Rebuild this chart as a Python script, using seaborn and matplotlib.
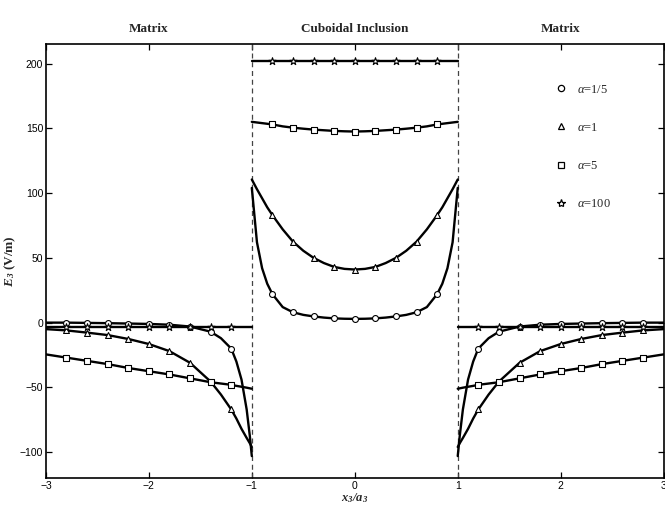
import numpy as np
import pandas as pd
import seaborn as sns
import matplotlib.pyplot as plt
from matplotlib.lines import Line2D

# E3 along x3/a3 for four conductivity ratios
labels = ['1/5', '1', '5', '100']
markers = ['o', '^', 's', '*']

# left matrix region
x_left = [-3.0, -2.8, -2.6, -2.4, -2.2, -2.0, -1.8, -1.6, -1.4, -1.3, -1.2,
          -1.15, -1.1, -1.05, -1.02, -1.0]
e_left_a02 = [0.0, 0.0, -0.2, -0.4, -0.7, -1.0, -1.6, -3.0, -7.0, -12.0, -20.0,
              -30.0, -44.0, -67.0, -87.0, -103.0]
e_left_a1 = [-5.0, -6.0, -7.7, -9.6, -12.6, -16.5, -22.0, -31.0, -45.5, -55.5, -67.0,
             -74.0, -82.0, -89.0, -93.0, -96.0]
e_left_a5 = [-24.5, -27.0, -29.5, -32.0, -35.0, -37.5, -40.0, -43.0, -46.0, -47.0, -48.0,
             -48.8, -49.5, -50.2, -50.7, -51.0]
e_left_a100 = [-3.0] * 16

# cuboidal inclusion
x_in = [-1.0, -0.95, -0.9, -0.85, -0.8, -0.7, -0.6, -0.5, -0.4, -0.3, -0.2, -0.1, 0.0,
        0.1, 0.2, 0.3, 0.4, 0.5, 0.6, 0.7, 0.8, 0.85, 0.9, 0.95, 1.0]
e_in_a02 = [104.0, 62.0, 42.0, 30.0, 22.0, 12.0, 8.0, 6.0, 4.8, 3.9, 3.3, 3.0, 2.9,
            3.0, 3.3, 3.9, 4.8, 6.0, 8.0, 12.0, 22.0, 30.0, 42.0, 62.0, 104.0]
e_in_a1 = [110.5, 103.0, 96.0, 89.0, 83.0, 72.0, 62.5, 55.5, 50.0, 46.0, 43.0, 41.5, 41.0,
           41.5, 43.0, 46.0, 50.0, 55.5, 62.5, 72.0, 83.0, 89.0, 96.0, 103.0, 110.5]
e_in_a5 = [155.0, 154.5, 154.0, 153.5, 153.0, 151.5, 150.5, 149.7, 149.0, 148.5, 148.0, 147.7, 147.5,
           147.7, 148.0, 148.5, 149.0, 149.7, 150.5, 151.5, 153.0, 153.5, 154.0, 154.5, 155.0]
e_in_a100 = [202.0] * 25

# right matrix region
x_right = [1.0, 1.02, 1.05, 1.1, 1.15, 1.2, 1.3, 1.4, 1.6, 1.8, 2.0, 2.2, 2.4, 2.6,
           2.8, 3.0]
e_right_a02 = [-103.0, -87.0, -67.0, -44.0, -30.0, -20.0, -12.0, -7.0, -3.0, -1.6, -1.0,
               -0.7, -0.4, -0.2, 0.0, 0.0]
e_right_a1 = [-96.0, -93.0, -89.0, -82.0, -74.0, -67.0, -55.5, -45.5, -31.0, -22.0, -16.5,
              -12.6, -9.6, -7.7, -6.0, -5.0]
e_right_a5 = [-51.0, -50.7, -50.2, -49.5, -48.8, -48.0, -47.0, -46.0, -43.0, -40.0, -37.5,
              -35.0, -32.0, -29.5, -27.0, -24.5]
e_right_a100 = [-3.0] * 16

# where the symbols sit
x_mark = [-2.8, -2.6, -2.4, -2.2, -2.0, -1.8, -1.6, -1.4, -1.2,
          -0.8, -0.6, -0.4, -0.2, 0.0, 0.2, 0.4, 0.6, 0.8,
          1.2, 1.4, 1.6, 1.8, 2.0, 2.2, 2.4, 2.6, 2.8]

regions = [
    (x_left, [e_left_a02, e_left_a1, e_left_a5, e_left_a100]),
    (x_in, [e_in_a02, e_in_a1, e_in_a5, e_in_a100]),
    (x_right, [e_right_a02, e_right_a1, e_right_a5, e_right_a100]),
]

sns.set_style('ticks')
plt.rcParams['font.family'] = ['Liberation Sans Narrow', 'Liberation Sans', 'DejaVu Sans']
plt.rcParams['mathtext.fontset'] = 'custom'
plt.rcParams['mathtext.rm'] = 'Liberation Serif'
plt.rcParams['mathtext.it'] = 'Liberation Serif:italic'
plt.rcParams['mathtext.bf'] = 'Liberation Serif:bold:italic'

fig = plt.figure(figsize=(6.65, 5.07), dpi=100)
ax = fig.add_axes([0.069, 0.057, 0.929, 0.856])

for xs, series in regions:
    for lab, mk, ys in zip(labels, markers, series):
        df = pd.DataFrame({'x': xs, 'E3': ys})
        sns.lineplot(data=df, x='x', y='E3', ax=ax, color='black', lw=1.7,
                     estimator=None, sort=False, zorder=2)
        dm = df[df['x'].round(2).isin(x_mark)]
        sns.scatterplot(data=dm, x='x', y='E3', ax=ax, marker=mk,
                        s=30 if mk == '*' else 18, facecolor='white',
                        edgecolor='black', linewidth=0.8, zorder=3)

for xv in [-1, 1]:
    ax.axvline(xv, color='#444444', lw=0.9, ls=(0, (4, 3)), zorder=1)

ax.set_xlim(-3, 3)
ax.set_ylim(-120, 215)
ax.set_xticks([-3, -2, -1, 0, 1, 2, 3])
ax.set_yticks([-100, -50, 0, 50, 100, 150, 200])
ax.tick_params(direction='in', length=4, width=0.9, labelsize=7.5, pad=2,
               top=True, right=True, colors='black')
for sp in ax.spines.values():
    sp.set_visible(True)
    sp.set_color('black')
    sp.set_linewidth(1.2)

ax.set_xlabel(r'$\mathbf{x_3/a_3}$', fontsize=9, labelpad=0)
ax.set_ylabel(r'$\mathbf{E_3}$ (V/m)', fontsize=9.5, family='Liberation Serif',
              fontweight='bold', labelpad=1)

trans = ax.get_xaxis_transform()
for xv, txt in [(-2, 'Matrix'), (0, 'Cuboidal Inclusion'), (2, 'Matrix')]:
    ax.text(xv, 1.035, txt, transform=trans, ha='center', va='center',
            family='Liberation Serif', fontweight='bold', fontsize=9.5)

handles = [Line2D([], [], ls='none', marker=mk, color='black', markerfacecolor='white',
                  markersize=6 if mk == '*' else 4.5, markeredgewidth=0.9)
           for mk in markers]
texts = [r'$\alpha$=' + lab for lab in labels]
leg = ax.legend(handles, texts, loc='upper left', bbox_to_anchor=(0.805, 0.935),
                frameon=False, handlelength=1.0, handletextpad=0.8,
                labelspacing=2.1, prop={'family': 'Liberation Serif', 'size': 9})

fig.savefig('out.png', dpi=100)
